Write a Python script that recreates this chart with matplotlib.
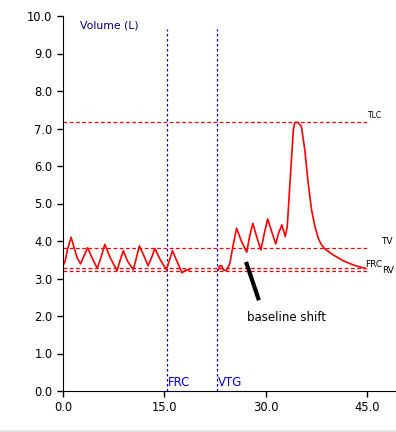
import matplotlib
matplotlib.use("Agg")
import matplotlib.pyplot as plt
from matplotlib.lines import Line2D

# volume trace (time s, volume L)
t_tidal = [0.0, 0.3, 0.7, 1.2, 1.6, 2.1, 2.6, 3.1, 3.65, 4.3, 5.08, 5.6, 6.2, 7.0, 8.0, 8.4,
           8.93, 9.6, 10.4, 10.8, 11.3, 12.0, 12.6, 13.1, 13.6, 14.4, 15.3, 15.7, 16.2, 16.9,
           17.6, 18.0, 18.3, 18.7]
v_tidal = [3.35, 3.45, 3.8, 4.1, 3.85, 3.55, 3.39, 3.6, 3.82, 3.55, 3.27, 3.55, 3.91, 3.55,
           3.21, 3.45, 3.74, 3.45, 3.24, 3.5, 3.87, 3.6, 3.34, 3.55, 3.8, 3.5, 3.24, 3.45,
           3.74, 3.45, 3.15, 3.2, 3.23, 3.23]

t_vtg = [23.0, 23.2, 23.5, 23.7, 24.2, 24.7, 25.2, 25.7, 26.4, 27.2, 27.6, 28.1, 28.7, 29.3,
         29.8, 30.3, 30.9, 31.5, 31.9, 32.4, 32.9, 33.2, 33.6, 34.1, 34.3, 34.8, 35.3, 35.8,
         36.3, 36.8, 37.3, 37.8, 38.2, 38.7, 39.3, 40.0, 41.5, 43.0, 44.7]
v_vtg = [3.23, 3.34, 3.34, 3.23, 3.21, 3.4, 3.9, 4.34, 4.0, 3.7, 4.1, 4.47, 4.1, 3.76, 4.2,
         4.59, 4.25, 3.92, 4.2, 4.43, 4.12, 4.38, 5.54, 6.96, 7.16, 7.16, 7.05, 6.43, 5.54,
         4.83, 4.38, 4.07, 3.92, 3.8, 3.72, 3.63, 3.47, 3.36, 3.27]

# reference levels
levels = {"TLC": 7.17, "TV": 3.81, "FRC": 3.28, "RV": 3.2}
markers_x = {"FRC": 15.4, "VTG": 22.8}

yticks = [0, 1, 2, 3, 4, 5, 6, 7, 8, 9, 10]
xticks = [0, 15, 30, 45]

fig = plt.figure(figsize=(3.96, 4.32), dpi=100)
ax = fig.add_axes([63 / 396, 41 / 432, 1 - 63 / 396, 375 / 432])
ax.set_xlim(0, 49.3)
ax.set_ylim(0, 10)
ax.spines["top"].set_visible(False)
ax.spines["right"].set_visible(False)
ax.set_xticks(xticks)
ax.set_xticklabels([f"{v:.1f}" for v in xticks], fontsize=8.3)
ax.set_yticks(yticks)
ax.set_yticklabels([f"{v:.1f}" for v in yticks], fontsize=8.3)
ax.tick_params(length=4, width=1)

dash = (0, (3, 2))
for name, y in levels.items():
    ax.plot([0, 45], [y, y], color="red", lw=0.9, ls=dash)
for name, x in markers_x.items():
    ax.plot([x, x], [0, 9.65], color="#0000cc", lw=0.9, ls=(0, (2, 2)))
    ax.text(x + 0.1, 0.05, name, color="#0000ff", fontsize=8.5, va="bottom", ha="left")

ax.plot(t_tidal, v_tidal, color="red", lw=1.2)
ax.plot(t_vtg, v_vtg, color="red", lw=1.2)

ax.text(45.2, levels["TLC"] + 0.05, "TLC", fontsize=5.5, va="bottom", ha="left")
ax.text(47.1, levels["TV"] + 0.05, "TV", fontsize=6.5, va="bottom", ha="left")
ax.text(44.7, 3.25, "FRC", fontsize=6.5, va="bottom", ha="left")
ax.text(47.3, 3.1, "RV", fontsize=6.5, va="bottom", ha="left")

ax.text(2.5, 9.76, "Volume (L)", color="#000080", fontsize=7.8, va="center", ha="left")

ax.plot([27.1, 29.0], [3.44, 2.42], color="black", lw=3, solid_capstyle="butt")
ax.text(27.2, 1.95, "baseline shift", fontsize=8.5, va="center", ha="left")

fig.add_artist(Line2D([0, 1], [1.5 / 432, 1.5 / 432], color="#e6e6e6", lw=1.5))

fig.savefig("out.png", dpi=100)
